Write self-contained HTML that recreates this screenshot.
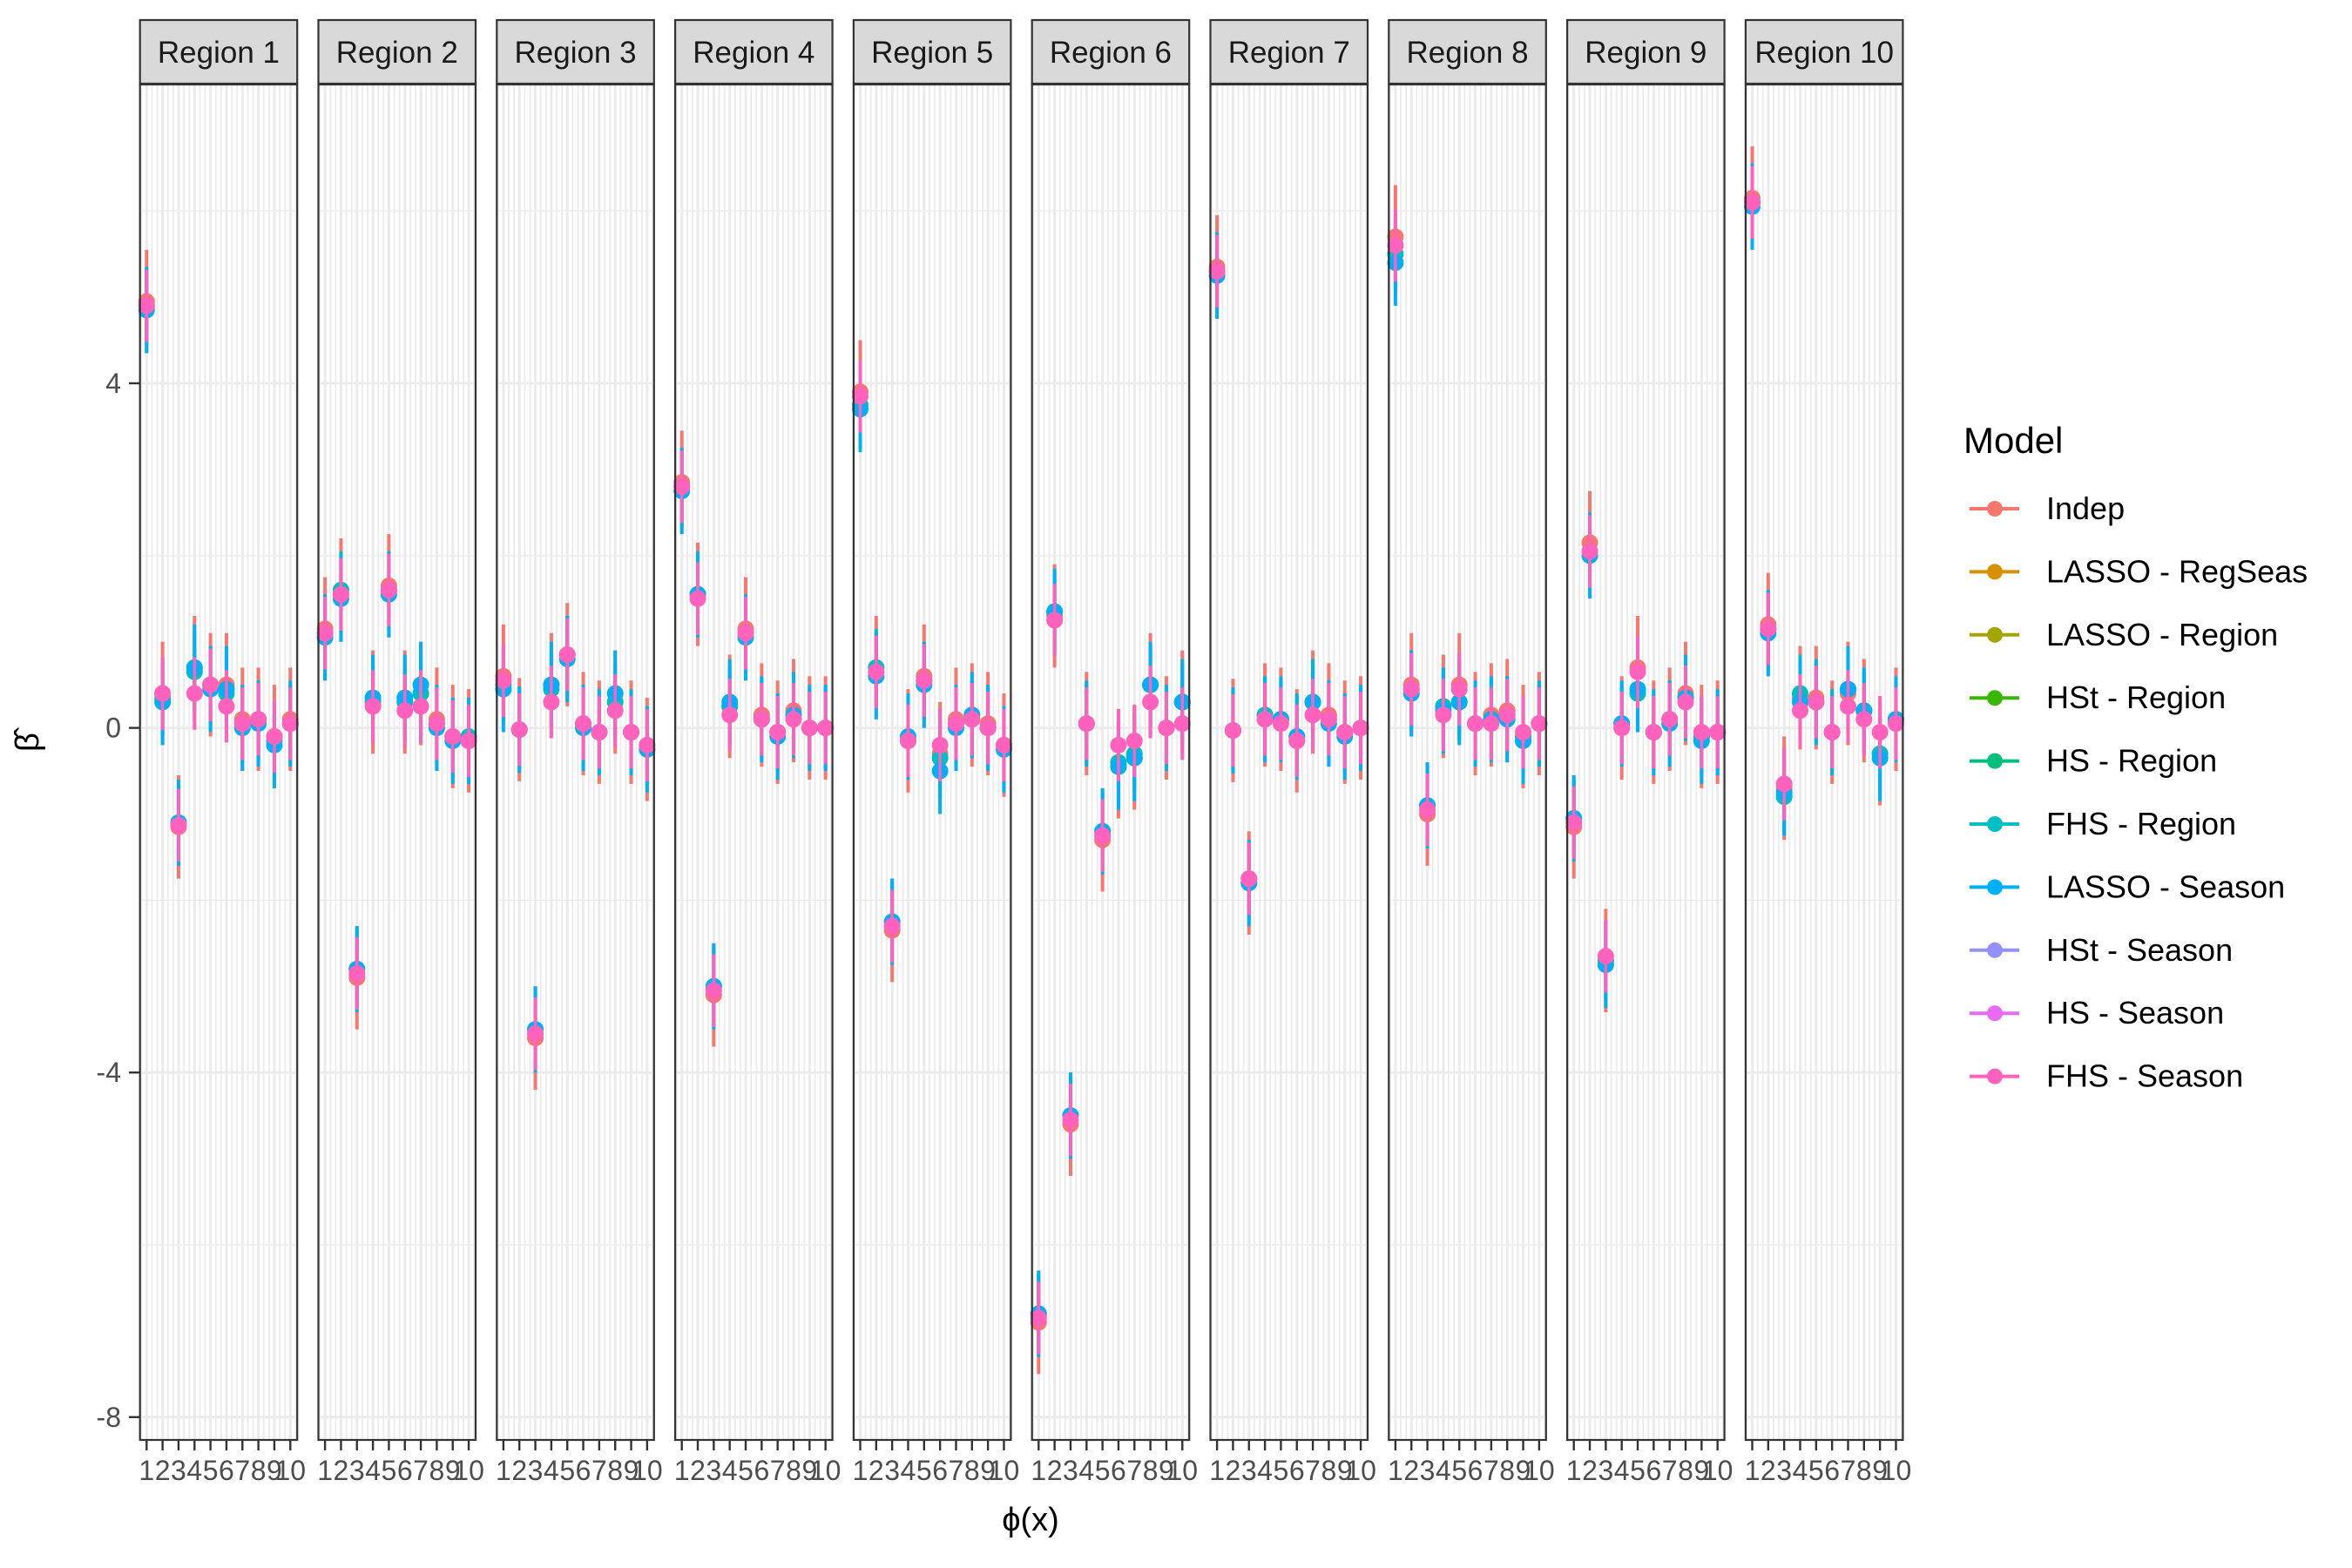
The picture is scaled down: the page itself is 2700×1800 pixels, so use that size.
<!DOCTYPE html>
<html><head><meta charset="utf-8">
<style>
body{margin:0;background:#fff;}
svg{display:block;font-family:"Liberation Sans",Arial,sans-serif;}
</style></head>
<body>
<svg id="chart" width="2700" height="1800" viewBox="0 0 2700 1800" xmlns="http://www.w3.org/2000/svg">
<g id="panels"></g>
<g id="axes"></g>
<g id="legend"></g>
</svg>
<script>
const regions = ["Region 1","Region 2","Region 3","Region 4","Region 5","Region 6","Region 7","Region 8","Region 9","Region 10"];
const features = [1,2,3,4,5,6,7,8,9,10];
const yTicks = [4,0,-4,-8];
const yMinor = [6,2,-2,-6];
const models = ["Indep","LASSO - RegSeas","LASSO - Region","HSt - Region","HS - Region","FHS - Region","LASSO - Season","HSt - Season","HS - Season","FHS - Season"];
const modelColors = ["#F8766D","#D89000","#A3A500","#39B600","#00BF7D","#00BFC4","#00B0F6","#9590FF","#E76BF3","#FF62BC"];
// FHS - Season estimates (pink) per region
const estPink = [
 [4.9,0.4,-1.13,0.4,0.5,0.25,0.05,0.1,-0.1,0.05],
 [1.1,1.55,-2.85,0.25,1.6,0.2,0.25,0.05,-0.1,-0.15],
 [0.55,-0.02,-3.55,0.3,0.85,0.05,-0.05,0.2,-0.05,-0.2],
 [2.8,1.5,-3.05,0.15,1.1,0.1,-0.05,0.1,0.0,0.0],
 [3.85,0.65,-2.3,-0.15,0.55,-0.2,0.05,0.1,0.0,-0.2],
 [-6.85,1.25,-4.55,0.05,-1.25,-0.2,-0.15,0.3,0.0,0.05],
 [5.3,-0.03,-1.75,0.1,0.05,-0.15,0.15,0.1,-0.05,0.0],
 [5.6,0.45,-0.95,0.15,0.45,0.05,0.05,0.15,-0.05,0.05],
 [-1.1,2.05,-2.65,0.0,0.65,-0.05,0.1,0.3,-0.05,-0.05],
 [6.1,1.15,-0.65,0.2,0.3,-0.05,0.25,0.1,-0.05,0.05]
];
// LASSO - Season estimates (blue)
const estBlue = [
 [4.85,0.3,-1.1,0.7,0.45,0.45,0.0,0.05,-0.2,0.05],
 [1.05,1.5,-2.8,0.35,1.55,0.35,0.5,0.0,-0.15,-0.15],
 [0.45,-0.02,-3.5,0.5,0.8,0.0,-0.05,0.4,-0.05,-0.25],
 [2.75,1.55,-3.0,0.3,1.05,0.1,-0.1,0.15,0.0,0.0],
 [3.7,0.6,-2.25,-0.1,0.5,-0.5,0.0,0.15,0.0,-0.25],
 [-6.8,1.35,-4.5,0.05,-1.2,-0.45,-0.35,0.5,0.0,0.3],
 [5.25,-0.03,-1.8,0.1,0.1,-0.1,0.3,0.05,-0.1,0.0],
 [5.4,0.4,-0.9,0.2,0.3,0.05,0.1,0.1,-0.15,0.05],
 [-1.05,2.0,-2.75,0.05,0.45,-0.05,0.05,0.35,-0.15,-0.05],
 [6.05,1.1,-0.75,0.3,0.3,-0.05,0.45,0.2,-0.35,0.1]
];
// FHS - Region estimates (teal)
const estTeal = [
 [4.9,0.35,-1.1,0.65,0.5,0.4,0.05,0.1,-0.15,0.05],
 [1.1,1.6,-2.8,0.3,1.6,0.3,0.4,0.05,-0.1,-0.1],
 [0.5,-0.02,-3.5,0.45,0.85,0.05,-0.05,0.3,-0.05,-0.2],
 [2.8,1.55,-3.0,0.25,1.1,0.1,-0.05,0.15,0.0,0.0],
 [3.75,0.7,-2.25,-0.15,0.55,-0.35,0.05,0.1,0.0,-0.2],
 [-6.8,1.35,-4.5,0.05,-1.2,-0.4,-0.3,0.5,0.0,0.3],
 [5.3,-0.03,-1.75,0.15,0.1,-0.1,0.3,0.1,-0.05,0.0],
 [5.5,0.45,-0.9,0.25,0.3,0.05,0.1,0.15,-0.1,0.05],
 [-1.05,2.05,-2.7,0.05,0.4,-0.05,0.1,0.35,-0.1,-0.05],
 [6.1,1.15,-0.8,0.4,0.3,-0.05,0.45,0.2,-0.3,0.1]
];
// Indep estimates (red)
const estRed = [
 [4.95,0.4,-1.15,0.7,0.5,0.5,0.1,0.1,-0.1,0.1],
 [1.15,1.6,-2.9,0.3,1.65,0.3,0.4,0.1,-0.1,-0.15],
 [0.6,-0.02,-3.6,0.5,0.85,0.05,-0.05,0.3,-0.05,-0.25],
 [2.85,1.55,-3.1,0.25,1.15,0.15,-0.05,0.2,0.0,0.0],
 [3.9,0.7,-2.35,-0.15,0.6,-0.3,0.1,0.15,0.05,-0.2],
 [-6.9,1.3,-4.6,0.05,-1.3,-0.45,-0.35,0.5,0.0,0.3],
 [5.35,-0.03,-1.8,0.15,0.1,-0.15,0.3,0.15,-0.05,0.0],
 [5.7,0.5,-1.0,0.25,0.5,0.05,0.15,0.2,-0.1,0.05],
 [-1.15,2.15,-2.7,0.0,0.7,-0.05,0.1,0.4,-0.1,-0.05],
 [6.15,1.2,-0.7,0.35,0.35,-0.05,0.4,0.2,-0.3,0.1]
];
const halfRed = 0.6, halfBlue = 0.5, halfTeal = 0.45, halfPink = 0.42;

const NS = "http://www.w3.org/2000/svg";
const panelLeft0 = 160.7, panelPitch = 204.8, panelW = 180.5;
const stripTop = 23, stripBot = 96, panelTop = 97, panelBot = 1653;
const y0px = 835.6, yUnit = 98.9;
function yScale(v){ return y0px - v*yUnit; }
function xScale(p, f){ return panelLeft0 + p*panelPitch + 7.6 + (f-1)*18.33; }
function mk(tag, attrs, parent){ const e=document.createElementNS(NS,tag); for(const k in attrs) e.setAttribute(k,attrs[k]); parent.appendChild(e); return e; }

const gp = document.getElementById('panels');
const ga = document.getElementById('axes');
regions.forEach((r,p)=>{
  const L = panelLeft0 + p*panelPitch;
  const g = mk('g',{},gp);
  
  
  const strip = mk('rect',{x:L,y:stripTop,width:panelW,height:stripBot-stripTop,fill:'#D9D9D9',stroke:'#333','stroke-width':2.2},g);
  
  
  const st = mk('text',{x:L+panelW/2,y:stripTop+49,'text-anchor':'middle','font-size':35,fill:'#1A1A1A'},g);
  st.textContent = r;
  
  
  yMinor.forEach(v=>{ const gl=mk('line',{x1:L,x2:L+panelW,y1:yScale(v),y2:yScale(v),stroke:'#EBEBEB','stroke-width':1.4},g);   });
  yTicks.forEach(v=>{ const gl=mk('line',{x1:L,x2:L+panelW,y1:yScale(v),y2:yScale(v),stroke:'#EBEBEB','stroke-width':2.8},g);   });
  for(let f=0.67; f<=10.4; f+=1/3){
    const isMaj = Math.abs(f-Math.round(f))<0.05;
    const x = xScale(p,f);
    if(x<L||x>L+panelW) continue;
    const gl=mk('line',{x1:x,x2:x,y1:panelTop,y2:panelBot,stroke:'#EBEBEB','stroke-width':isMaj?3:1.8},g);
     
  }
  const series = [[estRed,halfRed,modelColors[0]],[estTeal,halfTeal,modelColors[5]],[estBlue,halfBlue,modelColors[6]],[estPink,halfPink,modelColors[9]]];
  series.forEach(([est,h,c])=>{
    features.forEach((f,i)=>{
      const v=est[p][i], x=xScale(p,f);
      const b=mk('line',{x1:x,x2:x,y1:yScale(v+h),y2:yScale(v-h),stroke:c,'stroke-width':4},g);
       
    });
  });
  series.forEach(([est,h,c])=>{
    features.forEach((f,i)=>{
      const v=est[p][i], x=xScale(p,f);
      const pt=mk('circle',{cx:x,cy:yScale(v),r:9.5,fill:c},g);
       
    });
  });
  features.forEach((f,i)=>{
    const v=estPink[p][i], x=xScale(p,f);
    const b=mk('line',{x1:x,x2:x,y1:yScale(v+halfPink),y2:yScale(v-halfPink),stroke:modelColors[9],'stroke-width':3.5},g);
     
  });
  const border=mk('rect',{x:L,y:panelTop,width:panelW,height:panelBot-panelTop,fill:'none',stroke:'#333','stroke-width':2.2},g);
   
  features.forEach(f=>{
    const x=xScale(p,f);
    const t=mk('line',{x1:x,x2:x,y1:panelBot,y2:panelBot+12,stroke:'#333','stroke-width':2.4},ga);
     
    const tl=mk('text',{x:x,y:panelBot+46,'text-anchor':'middle','font-size':32,fill:'#4D4D4D'},ga);
    tl.textContent=String(f);
     
  });
});
yTicks.forEach(v=>{
  const t=mk('line',{x1:148,x2:160.7,y1:yScale(v),y2:yScale(v),stroke:'#333','stroke-width':2.4},ga);
   
  const tl=mk('text',{x:139,y:yScale(v)+11,'text-anchor':'end','font-size':32,fill:'#4D4D4D'},ga);
  tl.textContent=String(v);
   
});
const yt=mk('text',{x:44,y:852,'text-anchor':'middle','font-size':38,fill:'#000',transform:'rotate(-90 44 852)'},ga);
yt.textContent='β̂';
 
const xt=mk('text',{x:1183,y:1757,'text-anchor':'middle','font-size':38,fill:'#000'},ga);
xt.textContent='ϕ(x)';
 

const gl = document.getElementById('legend');
const lt=mk('text',{x:2254,y:520,'font-size':42,fill:'#000'},gl);
lt.textContent='Model';
 
models.forEach((m,i)=>{
  const y=584+i*72.4;
  const g=mk('g',{},gl);
   
  mk('line',{x1:2261,x2:2318,y1:y,y2:y,stroke:modelColors[i],'stroke-width':4},g);
  mk('circle',{cx:2290,cy:y,r:9,fill:modelColors[i]},g);
  const t=mk('text',{x:2349,y:y+12,'font-size':36,fill:'#000'},g);
  t.textContent=m;
});
</script>
</body></html>
